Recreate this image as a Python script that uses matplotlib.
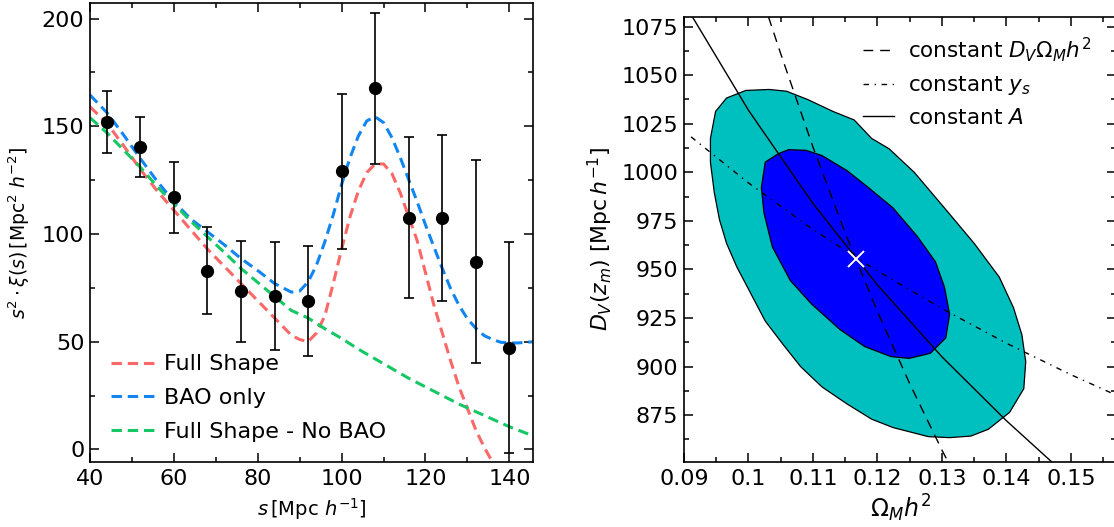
import numpy as np
import matplotlib
matplotlib.use("Agg")
import matplotlib.pyplot as plt
from matplotlib.ticker import MultipleLocator, FuncFormatter

plt.rcParams['lines.scale_dashes'] = False
plt.rcParams['font.family'] = ['DejaVu Sans']
plt.rcParams['mathtext.fontset'] = 'dejavusans'

# ---------------- left panel data ----------------
s_pts = [44, 52, 60, 68, 76, 84, 92, 100, 108, 116, 124, 132, 140]
xi_pts = [152, 140.5, 117, 83, 73.3, 71.1, 68.7, 129, 167.7, 107.6, 107.6, 87.2, 47.1]
xi_err = [14.5, 14, 16.5, 20, 23.5, 25, 25.5, 36, 35, 37.5, 38.5, 47, 49]

s_full = [40, 44, 48, 52, 56, 60, 64, 68, 72, 76, 80, 84, 88, 90, 92, 94, 96, 98,
          100, 102, 104, 106, 108, 110, 112, 114, 116, 118, 120, 122, 124, 126,
          128, 130, 132, 134, 136, 137]
xi_full = [159, 151.5, 141, 130, 120, 111, 102, 93, 85, 77, 69, 61, 53, 51, 50, 54,
           62, 77, 93, 108, 120, 128.5, 132.5, 132.5, 128, 119, 108, 97, 82, 67,
           54, 41, 29, 19, 9, 1, -6, -10]

s_bao = [40, 44, 48, 52, 56, 60, 64, 68, 72, 76, 80, 84, 88, 90, 92, 94, 96, 98,
         100, 102, 104, 106, 108, 110, 112, 114, 116, 118, 120, 122, 124, 126,
         128, 130, 132, 134, 136, 138, 140, 142, 146]
xi_bao = [164.5, 156.4, 146, 135, 124.5, 115, 107, 101, 95, 88.6, 83, 77, 73, 73.5,
          77.7, 85.5, 96.4, 108.9, 123, 135.4, 145.5, 152.5, 154.4, 151.7, 144.7,
          135.4, 125.2, 115, 104.2, 94, 84, 74.6, 66.8, 60.6, 56.2, 52.8, 51,
          49.7, 49.4, 49.4, 50]

s_nobao = [40, 44, 48, 52, 56, 60, 64, 68, 72, 76, 80, 84, 88, 92, 96, 100, 104,
           108, 112, 116, 120, 124, 128, 132, 136, 140, 146]
xi_nobao = [154, 147, 139, 131, 122, 114, 106, 98.7, 91.5, 84, 77.5, 71, 64.5, 61,
            56, 51.5, 46.5, 42, 37.5, 33, 29, 25, 21, 17.5, 14, 10.5, 6]

# ---------------- right panel data ----------------
om_outer = [0.0996, 0.1032, 0.1059, 0.1092, 0.1131, 0.1164, 0.1191, 0.1218, 0.1257,
            0.1306, 0.1350, 0.1389, 0.1411, 0.1424, 0.1430, 0.1427, 0.1405, 0.1372,
            0.1345, 0.1312, 0.1279, 0.1224, 0.1191, 0.1153, 0.1114, 0.1081, 0.1054,
            0.1026, 0.1004, 0.0982, 0.0966, 0.0955, 0.0947, 0.0941, 0.0941, 0.0949,
            0.0966]
dv_outer = [1042.1, 1042.6, 1041.7, 1037.4, 1031.3, 1026.9, 1017.4, 1012.1, 1000.0,
            980.8, 963.4, 946.0, 930.3, 916.4, 902.5, 888.6, 876.4, 867.7, 864.2,
            863.4, 863.9, 868.6, 872.9, 880.7, 889.5, 899.9, 911.2, 923.4, 937.3,
            951.2, 963.4, 975.6, 989.5, 1005.2, 1017.4, 1031.3, 1038.2]

om_inner = [0.1026, 0.1046, 0.1062, 0.1089, 0.1114, 0.1153, 0.1186, 0.1224, 0.1262,
            0.1290, 0.1304, 0.1312, 0.1306, 0.1282, 0.1249, 0.1221, 0.1180, 0.1142,
            0.1098, 0.1065, 0.1037, 0.1024, 0.1020]
dv_inner = [1005.2, 1009.5, 1011.6, 1011.3, 1008.6, 1000.8, 992.1, 981.7, 966.9,
            953.9, 940.8, 926.9, 914.7, 906.8, 904.2, 905.1, 910.3, 919.0, 932.1,
            944.2, 961.6, 979.1, 992.1]

best_om = [0.1166]
best_dv = [955.5]

om_dvom = [0.1031, 0.105, 0.110, 0.115, 0.120, 0.125, 0.130, 0.1311]
dv_dvom = [1080, 1061, 1013, 968.7, 928.3, 891.2, 857, 850]

om_ys = [0.0911, 0.100, 0.110, 0.120, 0.130, 0.140, 0.150, 0.158]
dv_ys = [1018.2, 994.5, 970.5, 949.2, 929.8, 912.0, 895.8, 883.8]

om_A = [0.0913, 0.100, 0.110, 0.120, 0.130, 0.140, 0.1465, 0.148]
dv_A = [1080, 1031.9, 983.9, 942.0, 905.0, 872.1, 852.5, 848]

c_red = '#fa6868'
c_blue = '#1186f2'
c_green = '#16c765'

fig = plt.figure(figsize=(11.14, 5.27), dpi=100)

# ================= left panel =================
ax1 = fig.add_axes([0.0808, 0.1228, 0.3979, 0.8706])
lw = 2.2
dash = (7.5, 4.2)
l1, = ax1.plot(s_full, xi_full, color=c_red, lw=lw, dashes=dash, label='Full Shape')
l2, = ax1.plot(s_bao, xi_bao, color=c_blue, lw=lw, dashes=dash, label='BAO only')
l3, = ax1.plot(s_nobao, xi_nobao, color=c_green, lw=lw, dashes=dash,
               label='Full Shape - No BAO')
ax1.errorbar(s_pts, xi_pts, yerr=xi_err, fmt='o', color='black', ms=8.5,
             elinewidth=1.2, capsize=3.6, capthick=1.2, zorder=5)
ax1.set_xlim(40, 145.7)
ax1.set_ylim(-6, 207)
ax1.xaxis.set_major_locator(MultipleLocator(20))
ax1.xaxis.set_minor_locator(MultipleLocator(10))
ax1.yaxis.set_major_locator(MultipleLocator(50))
ax1.yaxis.set_minor_locator(MultipleLocator(25))
ax1.set_xlabel(r'$s\,[\mathrm{Mpc}\ h^{-1}]$', fontsize=14, labelpad=5)
ax1.set_ylabel(r'$s^2\cdot\xi(s)\,[\mathrm{Mpc}^2\ h^{-2}]$', fontsize=13.5, labelpad=7)
ax1.legend(handles=[l1, l2, l3], loc='upper left', bbox_to_anchor=(0.047, 0.235),
           frameon=False, fontsize=16, handlelength=2.0, handletextpad=0.4,
           labelspacing=0.62, borderpad=0, borderaxespad=0)

# ================= right panel =================
ax2 = fig.add_axes([0.6140, 0.1239, 0.3878, 0.8442])
ax2.fill(om_outer, dv_outer, facecolor=(0, 0.75, 0.75), edgecolor='black', lw=0.9)
ax2.fill(om_inner, dv_inner, facecolor='#0000ff', edgecolor='black', lw=0.9)
la, = ax2.plot(om_dvom, dv_dvom, color='black', lw=1.0, dashes=(7, 5),
               label=r'constant $D_V\Omega_M h^2$')
lb, = ax2.plot(om_ys, dv_ys, color='black', lw=1.0, dashes=(4, 4, 1, 4),
               label=r'constant $y_s$')
lc, = ax2.plot(om_A, dv_A, color='black', lw=1.0, label=r'constant $A$')
ax2.plot(best_om, best_dv, 'x', color='white', ms=11, mew=1.4, zorder=6)
ax2.set_xlim(0.09, 0.157)
ax2.set_ylim(851, 1080)
ax2.xaxis.set_major_locator(MultipleLocator(0.01))
ax2.xaxis.set_minor_locator(MultipleLocator(0.005))
ax2.yaxis.set_major_locator(MultipleLocator(25))
ax2.yaxis.set_minor_locator(MultipleLocator(12.5))
ax2.xaxis.set_major_formatter(FuncFormatter(lambda v, p: f'{v:g}'))
ax2.set_xlabel(r'$\Omega_M h^2$', fontsize=17, labelpad=3)
ax2.set_ylabel(r'$D_V(z_m)$ [Mpc$\,h^{-1}$]', fontsize=15.8, labelpad=5)
ax2.legend(handles=[la, lb, lc], loc='upper left', bbox_to_anchor=(0.414, 0.958),
           frameon=False, fontsize=15.5, handlelength=1.45, handletextpad=0.65,
           labelspacing=0.47, borderpad=0, borderaxespad=0)

for ax in (ax1, ax2):
    for sp in ax.spines.values():
        sp.set_linewidth(1.2)
    ax.tick_params(which='both', direction='in', top=True, right=True, width=1.1)
    ax.tick_params(which='major', length=6.5)
    ax.tick_params(which='minor', length=3.6)
    ax.tick_params(axis='x', labelsize=16, pad=5)
    ax.tick_params(axis='y', labelsize=16, pad=4)

fig.savefig('out.png', dpi=100)
